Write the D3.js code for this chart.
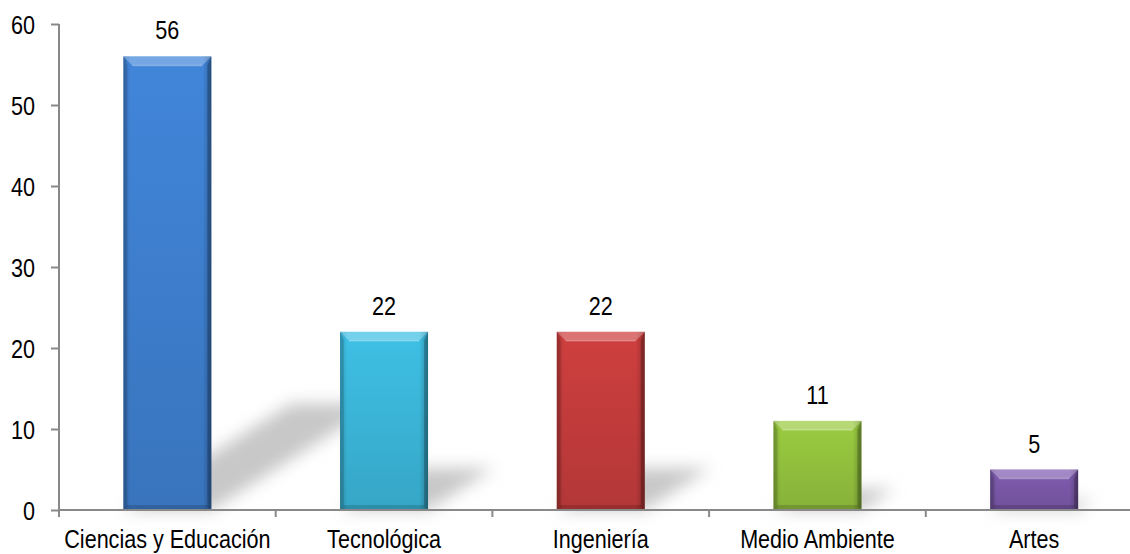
<!DOCTYPE html>
<html><head><meta charset="utf-8">
<script src="https://cdn.jsdelivr.net/npm/d3@7/dist/d3.min.js"></script>
<style>
html,body{margin:0;padding:0;background:#fff;}
svg{display:block;}
text{font-family:"Liberation Sans",Arial,sans-serif;fill:#000;}
</style></head>
<body>
<svg id="c" width="1130" height="554"></svg>
<script>
const categories = ["Ciencias y Educación","Tecnológica","Ingeniería","Medio Ambiente","Artes"];
const values = [56,22,22,11,5];
const colors = ["#3e7fcf","#3bb6d9","#c43c3c","#93c13e","#7a58a8"];
const yTicks = [0,10,20,30,40,50,60];

const svg = d3.select("#c");
const x0 = 59, x1 = 1142.5, yBase = 510, yTop = 24;
const x = d3.scaleBand().domain(categories).range([x0,x1]).paddingInner(0.594).paddingOuter(0.297);
const y = d3.scaleLinear().domain([0,60]).range([yBase,yTop]);
const FS = 26, SX = 0.83;

function narrowText(parent, cx, cy, txt, anchor){
  return parent.append("text")
    .attr("transform",`translate(${cx},${cy}) scale(${SX},1)`)
    .attr("text-anchor",anchor||"middle").attr("font-size",FS).text(txt);
}

const defs = svg.append("defs");
const f = defs.append("filter").attr("id","blur").attr("x","-50%").attr("y","-50%").attr("width","200%").attr("height","200%");
f.append("feGaussianBlur").attr("stdDeviation",8);

colors.forEach((c,i)=>{
  const g = defs.append("linearGradient").attr("id","g"+i).attr("x1",0).attr("y1",0).attr("x2",0).attr("y2",1);
  g.append("stop").attr("offset","0%").attr("stop-color",d3.color(c).brighter(0.15));
  g.append("stop").attr("offset","100%").attr("stop-color",d3.color(c).darker(0.25));
  const h = defs.append("linearGradient").attr("id","h"+i).attr("x1",0).attr("y1",0).attr("x2",1).attr("y2",0);
  h.append("stop").attr("offset","0%").attr("stop-color","#000").attr("stop-opacity",0.18);
  h.append("stop").attr("offset","8%").attr("stop-color","#000").attr("stop-opacity",0.0);
  h.append("stop").attr("offset","90%").attr("stop-color","#000").attr("stop-opacity",0.0);
  h.append("stop").attr("offset","100%").attr("stop-color","#000").attr("stop-opacity",0.25);
});

// shadows
const sh = svg.append("g").attr("filter","url(#blur)");
categories.forEach((c,i)=>{
  const bx0 = x(c), bx1 = x(c)+x.bandwidth();
  const h = yBase - y(values[i]);
  const dx = 0.37*h, dy = 0.235*h;
  sh.append("polygon")
    .attr("points",[[bx0,yBase],[bx1,yBase],[bx1+dx,yBase-dy],[bx0+dx,yBase-dy]].map(p=>p.join(",")).join(" "))
    .attr("fill","#c8c8c8");
});

// bars
const bg = svg.append("g");
categories.forEach((c,i)=>{
  const bx = x(c), bw = x.bandwidth(), by = y(values[i]), bh = yBase - by;
  const g = bg.append("g");
  g.append("rect").attr("x",bx).attr("y",by).attr("width",bw).attr("height",bh).attr("fill","url(#g"+i+")");
  g.append("rect").attr("x",bx).attr("y",by).attr("width",bw).attr("height",bh).attr("fill","url(#h"+i+")");
  const b = 9;
  g.append("polygon").attr("points",[[bx,by],[bx+bw,by],[bx+bw-b,by+b],[bx+b,by+b]].map(p=>p.join(",")).join(" "))
    .attr("fill","#fff").attr("fill-opacity",0.28);
  g.append("line").attr("x1",bx+b).attr("x2",bx+bw-b).attr("y1",by+b).attr("y2",by+b).attr("stroke","#fff").attr("stroke-opacity",0.25).attr("stroke-width",1.5);
  g.append("polygon").attr("points",[[bx,by],[bx+4,by+b],[bx+4,yBase-4],[bx,yBase]].map(p=>p.join(",")).join(" "))
    .attr("fill","#000").attr("fill-opacity",0.12);
  g.append("polygon").attr("points",[[bx+bw,by],[bx+bw-4,by+b],[bx+bw-4,yBase-4],[bx+bw,yBase]].map(p=>p.join(",")).join(" "))
    .attr("fill","#000").attr("fill-opacity",0.22);
  g.append("polygon").attr("points",[[bx,yBase],[bx+bw,yBase],[bx+bw-4,yBase-5],[bx+4,yBase-5]].map(p=>p.join(",")).join(" "))
    .attr("fill","#000").attr("fill-opacity",0.15);
  narrowText(svg, bx+bw/2, by-17, values[i], "middle");
});

// axes
const axisColor = "#898989";
const ya = svg.append("g").attr("transform",`translate(${x0},0)`)
  .call(d3.axisLeft(y).tickValues(yTicks).tickSize(8).tickPadding(16).tickFormat(d3.format("d")));
ya.select(".domain").attr("d",`M-0,${yTop}H0V${yBase+7}`).attr("stroke",axisColor).attr("stroke-width",2).attr("fill","none");
ya.selectAll(".tick line").attr("stroke",axisColor).attr("stroke-width",2);
ya.selectAll(".tick text").each(function(){
  const t = d3.select(this);
  t.attr("x",null).attr("dy",null).attr("font-size",FS).attr("fill","#000")
   .attr("font-family",'"Liberation Sans",Arial,sans-serif')
   .attr("transform",`translate(-24,9) scale(${SX},1)`);
});

svg.append("line").attr("x1",x0).attr("x2",1130).attr("y1",yBase).attr("y2",yBase).attr("stroke",axisColor).attr("stroke-width",2);
const step = x.step();
categories.forEach((c,i)=>{
  if(i>0){
    const tx = x0 + step*i;
    svg.append("line").attr("x1",tx).attr("x2",tx).attr("y1",yBase).attr("y2",yBase+7).attr("stroke",axisColor).attr("stroke-width",2);
  }
  narrowText(svg, x(c)+x.bandwidth()/2, 548, c, "middle");
});
</script>
</body></html>
